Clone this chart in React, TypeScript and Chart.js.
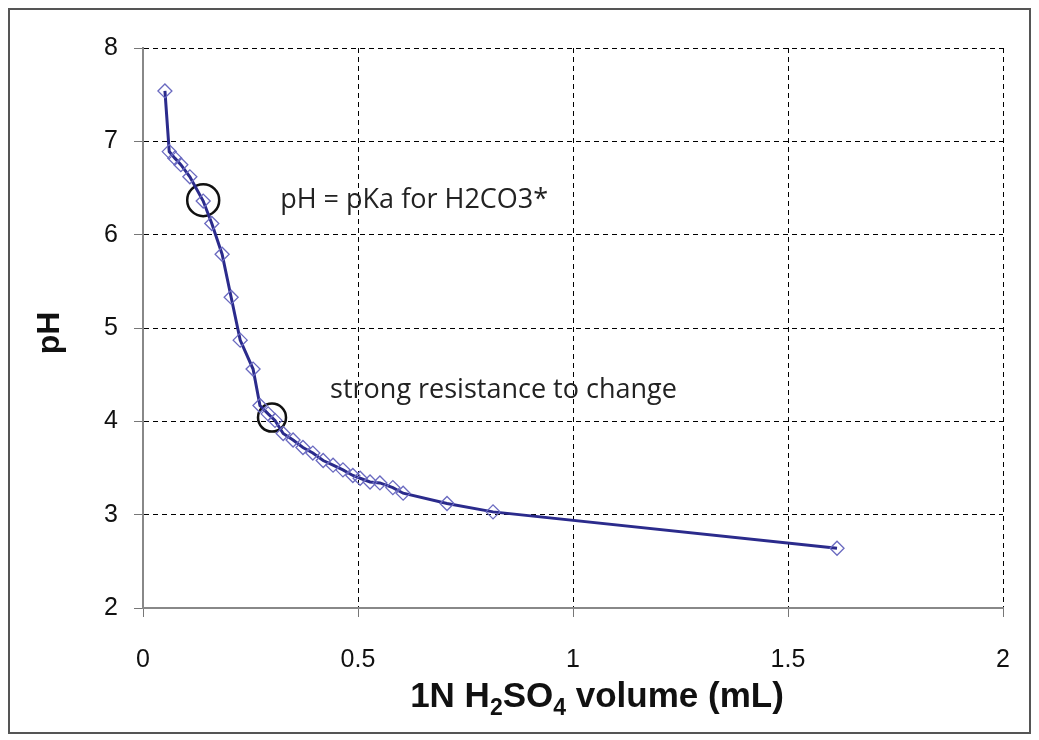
import React, { useEffect, useRef } from 'react';
import { Chart, registerables } from 'chart.js';

Chart.register(...registerables);

const volume = [0.051, 0.061, 0.074, 0.088, 0.109, 0.140, 0.160, 0.184, 0.205, 0.226, 0.256, 0.272, 0.291, 0.307, 0.326, 0.349, 0.372, 0.395, 0.419, 0.442, 0.465, 0.488, 0.505, 0.528, 0.551, 0.581, 0.605, 0.707, 0.814, 1.614];
const phValues = [7.54, 6.89, 6.82, 6.75, 6.62, 6.36, 6.12, 5.79, 5.33, 4.87, 4.56, 4.17, 4.08, 4.01, 3.87, 3.80, 3.72, 3.66, 3.58, 3.53, 3.48, 3.42, 3.39, 3.35, 3.34, 3.29, 3.23, 3.12, 3.03, 2.64];

const circleX = [0.14, 0.30];
const circleY = [6.37, 4.04];
const circleRadius = [16, 14];

const noteTexts = ['pH = pKa for H2CO3*', 'strong resistance to change'];
const noteX = [0.319, 0.435];
const noteY = [6.37, 4.33];

const xTitleParts = [
  { t: '1N H', sub: false },
  { t: '2', sub: true },
  { t: 'SO', sub: false },
  { t: '4', sub: true },
  { t: ' volume (mL)', sub: false },
];
const yTitle = 'pH';

const textPlugin = {
  id: 'textPlugin',
  afterDraw(chart: any) {
    const { ctx, chartArea, scales } = chart;
    const x = scales.x;
    const y = scales.y;
    ctx.save();
    // annotations
    ctx.fillStyle = '#222';
    ctx.font = '27px "Open Sans"';
    ctx.textAlign = 'left';
    ctx.textBaseline = 'middle';
    for (let i = 0; i < noteTexts.length; i++) {
      ctx.fillText(noteTexts[i], x.getPixelForValue(noteX[i]), y.getPixelForValue(noteY[i]));
    }
    // y title
    ctx.save();
    ctx.translate(40, (chartArea.top + chartArea.bottom) / 2 + 5);
    ctx.rotate(-Math.PI / 2);
    ctx.font = 'bold 32px "Liberation Sans"';
    ctx.fillStyle = '#111';
    ctx.textAlign = 'center';
    ctx.textBaseline = 'middle';
    ctx.fillText(yTitle, 0, 0);
    ctx.restore();
    // x title with subscripts
    const mainFont = 'bold 35px "Liberation Sans"';
    const subFont = 'bold 23px "Liberation Sans"';
    let total = 0;
    for (const p of xTitleParts) {
      ctx.font = p.sub ? subFont : mainFont;
      total += ctx.measureText(p.t).width;
    }
    let cx = (chartArea.left + chartArea.right) / 2 + 24 - total / 2;
    const baseY = 697;
    ctx.textAlign = 'left';
    ctx.textBaseline = 'alphabetic';
    ctx.fillStyle = '#111';
    for (const p of xTitleParts) {
      ctx.font = p.sub ? subFont : mainFont;
      ctx.fillText(p.t, cx, p.sub ? baseY + 8 : baseY);
      cx += ctx.measureText(p.t).width;
    }
    ctx.restore();
  },
};

export default function App() {
  const ref = useRef<HTMLCanvasElement | null>(null);
  useEffect(() => {
    if (!ref.current) return;
    const chart = new Chart(ref.current, {
      type: 'scatter',
      data: {
        datasets: [
          {
            label: 'pH',
            data: volume.map((v, i) => ({ x: v, y: phValues[i] })),
            showLine: true,
            borderColor: '#2b2b8c',
            borderWidth: 3,
            tension: 0,
            pointStyle: 'rectRot',
            pointRadius: 7,
            pointBorderColor: '#6a6ac0',
            pointBorderWidth: 1.3,
            pointBackgroundColor: 'rgba(255,255,255,0)',
          },
          {
            label: 'circles',
            data: circleX.map((v, i) => ({ x: v, y: circleY[i] })),
            showLine: false,
            pointStyle: 'circle',
            pointRadius: circleRadius,
            pointBorderColor: '#111',
            pointBorderWidth: 2.5,
            pointBackgroundColor: 'rgba(255,255,255,0)',
          },
        ],
      },
      options: {
        animation: false,
        responsive: false,
        maintainAspectRatio: false,
        layout: { padding: { top: 38, right: 26, left: 0, bottom: 0 } },
        plugins: { legend: { display: false }, tooltip: { enabled: false } },
        scales: {
          x: {
            type: 'linear',
            min: 0,
            max: 2,
            ticks: {
              stepSize: 0.5,
              color: '#111',
              font: { family: '"Liberation Sans"', size: 25 },
              padding: 28,
              callback: (v: any) => String(v),
            },
            grid: { color: '#000', lineWidth: 1, tickLength: 9, tickColor: '#777' },
            border: { color: '#888', width: 2, dash: [5, 4] },
            afterFit(scale: any) {
              scale.height = 124;
              scale.paddingLeft = 0;
              scale.paddingRight = 0;
            },
          },
          y: {
            type: 'linear',
            min: 2,
            max: 8,
            ticks: {
              stepSize: 1,
              color: '#111',
              font: { family: '"Liberation Sans"', size: 25 },
              padding: 16,
            },
            grid: { color: '#000', lineWidth: 1, tickLength: 9, tickColor: '#777' },
            border: { color: '#888', width: 2, dash: [5, 4] },
            afterFit(scale: any) {
              scale.width = 133;
              scale.paddingTop = 0;
              scale.paddingBottom = 0;
            },
          },
        },
      },
      plugins: [textPlugin],
    });
    return () => chart.destroy();
  }, []);
  return (
    <div style={{ width: 1023, height: 726, boxSizing: 'border-box', border: '2px solid #555', background: '#fff' }}>
      <canvas ref={ref} width={1019} height={722} style={{ display: 'block' }} />
    </div>
  );
}
